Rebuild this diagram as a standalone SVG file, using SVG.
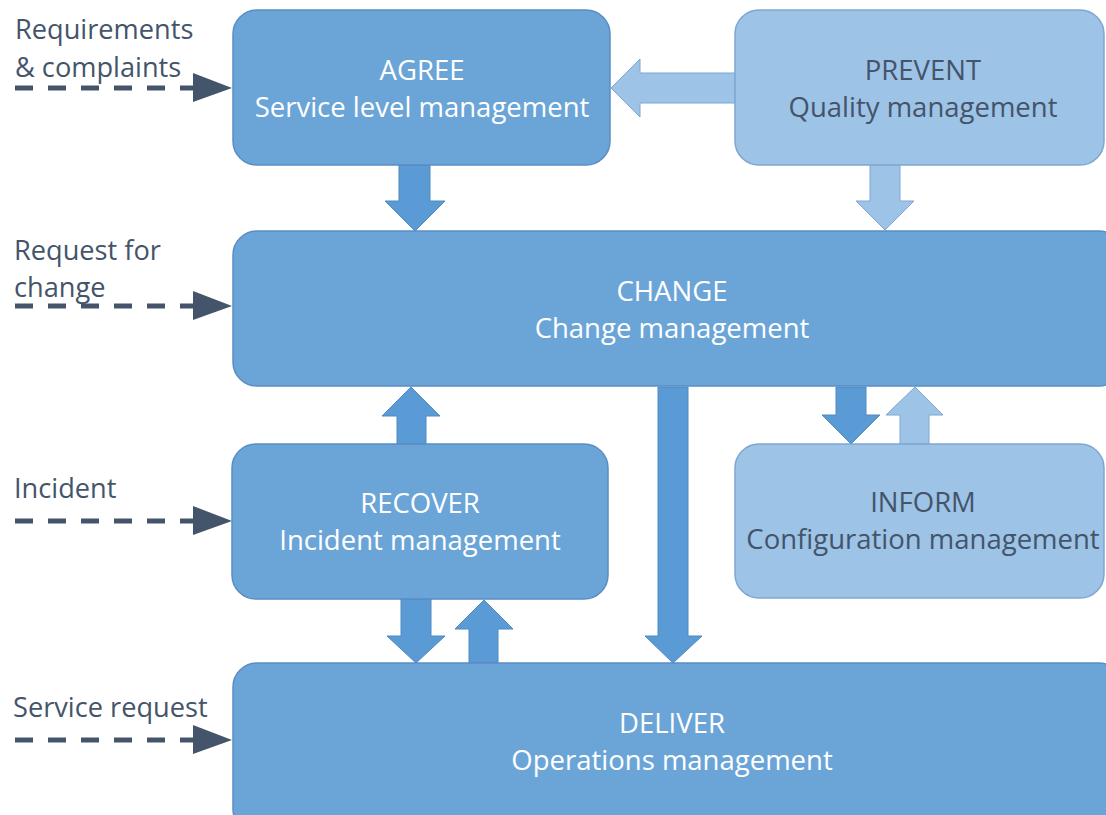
<svg xmlns="http://www.w3.org/2000/svg" width="1106" height="815" viewBox="0 0 1106 815">
  <defs>
    <style>
      .box-dark { fill: #6BA5D8; stroke: #5A8DC2; stroke-width: 1.5; }
      .box-light { fill: #9DC3E6; stroke: #7FA6D0; stroke-width: 1.5; }
      .arr-dark { fill: #5B9BD5; stroke: #4F89C0; stroke-width: 1; }
      .arr-light { fill: #9DC3E6; stroke: #7FA6D0; stroke-width: 1; }
      .t { font-family: "Open Sans", "Liberation Sans", sans-serif; font-size: 27.5px; text-anchor: middle; }
      .t-dark { fill: #FFFFFF; }
      .t-light { fill: #44546A; }
      .lbl { font-family: "Open Sans", "Liberation Sans", sans-serif; font-size: 27.2px; fill: #44546A; }
      .dash { stroke: #44546A; stroke-width: 5; stroke-dasharray: 18 15; fill: none; }
      .head { fill: #44546A; }
    </style>
  </defs>

  <rect width="1106" height="815" fill="#FFFFFF"/>

  <!-- block arrows between processes -->
  <g id="connectors">
    <!-- PREVENT to AGREE -->
    <polygon class="arr-light" points="735,73 640,73 640,59 611,88 640,117 640,103 735,103"/>
    <!-- AGREE to CHANGE -->
    <polygon class="arr-dark" points="399,165 430,165 430,201 445,201 415,231 385,201 399,201"/>
    <!-- PREVENT to CHANGE -->
    <polygon class="arr-light" points="870,165 900,165 900,201 914,201 885,230 856,201 870,201"/>
    <!-- RECOVER to CHANGE -->
    <polygon class="arr-dark" points="397,444 426,444 426,416 440,416 411,387 382,416 397,416"/>
    <!-- CHANGE to DELIVER -->
    <polygon class="arr-dark" points="658,387 688,387 688,636 702,636 673,663 645,636 658,636"/>
    <!-- CHANGE to INFORM -->
    <polygon class="arr-dark" points="836,387 866,387 866,415 880,415 851,444 822,415 836,415"/>
    <!-- INFORM to CHANGE -->
    <polygon class="arr-light" points="900,444 929,444 929,415 943,415 915,387 886,415 900,415"/>
    <!-- RECOVER to DELIVER -->
    <polygon class="arr-dark" points="401,599 431,599 431,636 445,636 416,663 387,636 401,636"/>
    <!-- DELIVER to RECOVER -->
    <polygon class="arr-dark" points="469,663 498,663 498,629 513,629 484,600 455,629 469,629"/>

    <!-- external inputs -->
    <line class="dash" x1="15" y1="88" x2="195" y2="88"/>
    <polygon class="head" points="193,73 232,88 193,102"/>
    <line class="dash" x1="15" y1="306" x2="195" y2="306"/>
    <polygon class="head" points="193,291 232,306 193,320"/>
    <line class="dash" x1="15" y1="521" x2="195" y2="521"/>
    <polygon class="head" points="193,506 232,521 193,535"/>
    <line class="dash" x1="15" y1="740" x2="195" y2="740"/>
    <polygon class="head" points="193,725 232,740 193,754"/>
  </g>

  <g id="agree">
    <rect class="box-dark" x="233" y="10" width="377" height="155" rx="24"/>
    <text class="t t-dark" x="422" y="80">AGREE</text>
    <text class="t t-dark" x="422" y="117">Service level management</text>
  </g>

  <g id="prevent">
    <rect class="box-light" x="735" y="10" width="369" height="155" rx="24"/>
    <text class="t t-light" x="923" y="80">PREVENT</text>
    <text class="t t-light" x="923" y="117">Quality management</text>
  </g>

  <g id="change">
    <rect class="box-dark" x="233" y="231" width="890" height="155" rx="24"/>
    <text class="t t-dark" x="672" y="301">CHANGE</text>
    <text class="t t-dark" x="672" y="338">Change management</text>
  </g>

  <g id="recover">
    <rect class="box-dark" x="232" y="444" width="376" height="155" rx="24"/>
    <text class="t t-dark" x="420" y="513">RECOVER</text>
    <text class="t t-dark" x="420" y="550">Incident management</text>
  </g>

  <g id="inform">
    <rect class="box-light" x="735" y="444" width="369" height="154" rx="24"/>
    <text class="t t-light" x="923" y="512">INFORM</text>
    <text class="t t-light" x="923" y="549">Configuration management</text>
  </g>

  <g id="deliver">
    <rect class="box-dark" x="233" y="663" width="890" height="170" rx="24"/>
    <text class="t t-dark" x="672" y="733">DELIVER</text>
    <text class="t t-dark" x="672" y="770">Operations management</text>
  </g>

  <g id="inputs">
    <text class="lbl" x="15" y="39">Requirements</text>
    <text class="lbl" x="15" y="77">&amp; complaints</text>
    <text class="lbl" x="14" y="260">Request for</text>
    <text class="lbl" x="14" y="297">change</text>
    <text class="lbl" x="14" y="498">Incident</text>
    <text class="lbl" x="13" y="717">Service request</text>
  </g>
</svg>
